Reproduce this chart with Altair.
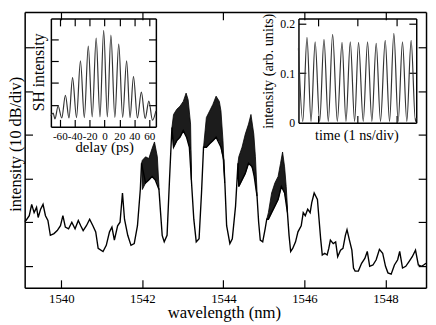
import altair as alt
import pandas as pd

FONT = "Liberation Serif"

# ---------------- main spectrum: wavelength (nm) vs level (dB) ----------------
wl = [1539.00, 1539.05, 1539.13, 1539.21, 1539.27, 1539.33, 1539.39, 1539.43, 1539.49, 1539.55,
      1539.61, 1539.67, 1539.73, 1539.82, 1539.90, 1539.98, 1540.04, 1540.10, 1540.18, 1540.26,
      1540.34, 1540.42, 1540.48, 1540.54, 1540.62, 1540.70, 1540.78, 1540.85, 1540.91, 1541.03,
      1541.11, 1541.19, 1541.25, 1541.31, 1541.39, 1541.45, 1541.51, 1541.56, 1541.64, 1541.72,
      1541.80, 1541.88, 1541.95, 1541.98, 1542.08, 1542.16, 1542.24, 1542.32, 1542.41, 1542.45,
      1542.49, 1542.54, 1542.61, 1542.67, 1542.73, 1542.77, 1542.85, 1542.93, 1543.01, 1543.09,
      1543.16, 1543.21, 1543.27, 1543.33, 1543.40, 1543.46, 1543.51, 1543.58, 1543.66, 1543.74,
      1543.82, 1543.94, 1544.01, 1544.04, 1544.08, 1544.16, 1544.22, 1544.30, 1544.36, 1544.38,
      1544.46, 1544.54, 1544.62, 1544.71, 1544.76, 1544.83, 1544.87, 1544.91, 1544.97, 1545.03,
      1545.07, 1545.11, 1545.19, 1545.27, 1545.35, 1545.43, 1545.51, 1545.58, 1545.62, 1545.66,
      1545.71, 1545.78, 1545.84, 1545.92, 1545.97, 1546.02, 1546.08, 1546.14, 1546.18, 1546.24,
      1546.32, 1546.36, 1546.40, 1546.44, 1546.50, 1546.56, 1546.60, 1546.64, 1546.71, 1546.77,
      1546.82, 1546.89, 1546.95, 1547.01, 1547.05, 1547.11, 1547.17, 1547.21, 1547.25, 1547.33,
      1547.41, 1547.49, 1547.55, 1547.61, 1547.69, 1547.77, 1547.85, 1547.93, 1548.00, 1548.06,
      1548.14, 1548.22, 1548.30, 1548.35, 1548.42, 1548.50, 1548.58, 1548.66, 1548.74, 1548.81,
      1548.89, 1548.94, 1549.00]
db = [-50.8, -50.0, -49.6, -48.5, -45.9, -47.8, -46.6, -48.9, -47.0, -45.9,
      -48.5, -49.6, -53.0, -52.6, -51.9, -50.8, -48.5, -51.1, -51.5, -50.0,
      -51.5, -49.6, -50.8, -51.9, -50.8, -49.3, -50.8, -52.2, -56.0, -56.7,
      -55.3, -52.2, -51.1, -54.1, -50.8, -50.0, -43.3, -49.3, -53.0, -55.3,
      -54.9, -50.8, -42.5, -36.5, -41.0, -40.3, -39.5, -40.3, -42.5, -47.8,
      -53.0, -54.5, -53.0, -40.3, -28.3, -32.8, -31.3, -30.5, -29.0, -30.5,
      -32.8, -40.3, -49.3, -54.5, -53.8, -43.3, -32.8, -32.8, -32.0, -31.3,
      -30.5, -32.8, -35.8, -41.8, -50.8, -54.9, -53.8, -46.3, -36.5, -41.8,
      -40.3, -38.8, -36.5, -37.3, -39.5, -44.0, -50.0, -54.1, -54.5, -51.5,
      -49.3, -49.3, -47.8, -46.3, -44.8, -41.8, -43.3, -47.8, -53.0, -56.7,
      -56.0, -54.5, -52.2, -50.8, -47.8, -48.5, -47.0, -47.8, -45.5, -43.3,
      -44.8, -49.3, -53.8, -57.5, -57.1, -57.5, -56.0, -54.1, -54.9, -54.5,
      -57.9, -56.4, -56.0, -53.0, -51.7, -54.1, -56.4, -60.5, -61.2, -61.2,
      -59.4, -58.3, -56.7, -60.1, -59.8, -58.6, -56.2, -57.1, -60.1, -61.6,
      -61.9, -59.8, -58.6, -56.7, -60.5, -60.1, -59.0, -57.9, -56.4, -59.8,
      -60.1, -59.8, -59.4]

# dense mode-comb lobes: wavelength, upper envelope, lower envelope (dB)
lobe_id = [1] * 8 + [2] * 9 + [3] * 9 + [4] * 9 + [5] * 10
lobe_wl = [1541.98, 1542.00, 1542.08, 1542.16, 1542.24, 1542.30, 1542.37, 1542.41,
           1542.73, 1542.77, 1542.85, 1542.93, 1543.01, 1543.08, 1543.13, 1543.19, 1543.21,
           1543.51, 1543.58, 1543.66, 1543.74, 1543.82, 1543.90, 1543.94, 1543.99, 1544.03,
           1544.36, 1544.38, 1544.46, 1544.54, 1544.62, 1544.68, 1544.75, 1544.79, 1544.83,
           1545.07, 1545.11, 1545.19, 1545.27, 1545.35, 1545.41, 1545.46, 1545.51, 1545.55, 1545.58]
lobe_hi = [-36.5, -35.8, -35.0, -35.4, -33.1, -31.6, -35.0, -41.8,
           -28.3, -25.3, -24.1, -23.4, -22.3, -20.4, -21.9, -27.5, -38.0,
           -32.8, -26.0, -24.5, -23.0, -21.1, -22.3, -24.5, -31.3, -40.0,
           -36.5, -35.0, -32.8, -29.8, -27.5, -25.3, -29.8, -35.0, -43.0,
           -49.3, -47.8, -43.3, -41.0, -39.5, -36.5, -33.9, -37.3, -41.8, -46.5]
lobe_lo = [-36.5, -42.5, -41.0, -40.3, -39.5, -40.0, -40.8, -42.5,
           -28.3, -32.8, -31.3, -30.5, -29.0, -30.0, -31.5, -33.5, -40.3,
           -32.8, -32.8, -32.0, -31.3, -30.5, -31.5, -32.8, -35.0, -41.0,
           -36.5, -41.8, -40.3, -38.8, -36.5, -36.8, -38.5, -40.5, -44.0,
           -49.3, -49.3, -47.8, -46.3, -44.8, -42.5, -42.0, -43.3, -45.0, -47.8]

# ---------------- inset 1: SH autocorrelation ----------------
sh_delay = [-72, -69, -66.5, -62.3, -57.4, -52.5, -47.7, -42.9, -37.6, -32.3, -27.1, -21.8,
            -16.5, -11.2, -6.1, -1.1, 3.8, 8.6, 13.9, 19.1, 24.4, 29.7, 34.3, 38.9, 44.2,
            49.5, 54.6, 59.6, 64.4, 69]
sh_int = [0.50, 0.62, 0.36, 0.95, 0.40, 1.44, 0.40, 2.25, 0.42, 3.02, 0.42, 3.69,
          0.45, 4.05, 0.45, 4.41, 0.45, 4.19, 0.43, 3.78, 0.43, 3.02, 0.42, 2.30, 0.40,
          1.58, 0.38, 1.17, 0.30, 0.72]

# ---------------- inset 2: pulse train ----------------
tr_time = [0.50, 0.61, 0.717, 0.82, 0.925, 1.04, 1.15, 1.26, 1.37, 1.49, 1.61, 1.71, 1.82,
           1.93, 2.03, 2.15, 2.26, 2.37, 2.48, 2.59, 2.71, 2.82, 2.93, 3.04, 3.15, 3.26,
           3.37, 3.48, 3.50]
tr_int = [0.150, 0.003, 0.172, 0.003, 0.163, 0.003, 0.168, 0.003, 0.178, 0.003, 0.162, 0.003,
          0.163, 0.003, 0.162, 0.003, 0.163, 0.003, 0.160, 0.003, 0.166, 0.003, 0.180, 0.003,
          0.163, 0.003, 0.166, 0.003, 0.010]

x_ticks = [1540, 1542, 1544, 1546, 1548]
y_ticks = [-60, -50, -40, -30, -20, -10]
sh_x_ticks = [-60, -40, -20, 0, 20, 40, 60]
sh_y_ticks = [1, 2, 3, 4]
tr_x_ticks = [1, 2, 3]
tr_y_ticks = [0.1, 0.2]
tr_y_labels = [0, 0.1, 0.2]

# ---------------- layout ----------------
W, H = 409, 281
MX, MY = [1539.097, 1549.0], [-65.0, -1.8]
S_XD, S_YD = [-72, 69], [0, 4.95]
S_XR, S_YR = [26.7, 133.7], [117.0, 6.7]
T_XD, T_YD = [0.5, 3.5], [0, 0.21]
T_XR, T_YR = [279.0, 399.0], [113.0, 6.7]


def sc(dom, rng=None):
    kw = dict(domain=dom, nice=False, zero=False)
    if rng is not None:
        kw["range"] = rng
    return alt.Scale(**kw)


def axis(orient, offset, **kw):
    base = dict(orient=orient, offset=offset, grid=False, labels=False, ticks=False,
                tickSize=0, domain=False, title=None, labelFont=FONT, titleFont=FONT,
                titleFontWeight="normal", labelColor="black", titleColor="black",
                domainColor="black", tickColor="black", domainWidth=1.5, tickWidth=1.2,
                labelFlush=False, labelOverlap=False)
    base.update(kw)
    return alt.Axis(**base)


main_df = pd.DataFrame({"wl": wl, "db": db})
lobe_df = pd.DataFrame({"lobe": lobe_id, "wl": lobe_wl, "hi": lobe_hi, "lo": lobe_lo})
sh_df = pd.DataFrame({"t": sh_delay, "v": sh_int})
tr_df = pd.DataFrame({"t": tr_time, "v": tr_int})

area = alt.Chart(lobe_df).mark_area(clip=True, color="#1c1c1c", stroke="black", strokeWidth=0.8).encode(
    x=alt.X("wl:Q", scale=sc(MX), axis=axis(
        "bottom", 0, labels=True, values=x_ticks, format="d", labelFontSize=13, labelPadding=5,
        domain=True, title="wavelength (nm)", titleFontSize=17, titleX=203, titleY=30,
        titleBaseline="alphabetic", titleAlign="center")),
    y=alt.Y("hi:Q", scale=sc(MY), axis=axis(
        "left", 0, domain=True, title="intensity (10 dB/div)", titleFontSize=16.5,
        titleX=-4, titleY=134.5, titleAngle=270, titleBaseline="alphabetic", titleAlign="center")),
    y2="lo:Q",
    detail="lobe:N",
)

line = alt.Chart(main_df).mark_line(clip=True, color="black", strokeWidth=1.4).encode(
    x=alt.X("wl:Q", scale=sc(MX), axis=axis("top", -H, ticks=True, tickSize=8, values=x_ticks)),
    y=alt.Y("db:Q", scale=sc(MY), axis=axis("right", -W, ticks=True, tickSize=8, values=y_ticks)),
)

frame = alt.Chart(main_df).mark_line(opacity=0).encode(
    x=alt.X("wl:Q", scale=sc(MX), axis=axis("bottom", -H, ticks=True, tickSize=8, values=x_ticks, domain=True)),
    y=alt.Y("db:Q", scale=sc(MY), axis=axis("left", -W, ticks=True, tickSize=8, values=y_ticks, domain=True)),
)

# inset 1
s1 = alt.Chart(sh_df).mark_line(color="#333333", strokeWidth=1.2, interpolate="monotone").encode(
    x=alt.X("t:Q", scale=sc(S_XD, S_XR), axis=axis(
        "bottom", S_YR[0] - H, labels=True, values=sh_x_ticks, labelExpr="'' + datum.value",
        labelFontSize=11.3, labelPadding=3.5, domain=True, title="delay (ps)", titleFontSize=15,
        titleX=81, titleY=25, titleBaseline="alphabetic", titleAlign="center")),
    y=alt.Y("v:Q", scale=sc(S_YD, S_YR), axis=axis(
        "left", -S_XR[0], domain=True, title="SH intensity", titleFontSize=16, titleX=-8,
        titleY=61, titleAngle=270, titleBaseline="alphabetic", titleAlign="center")),
)
s2 = alt.Chart(sh_df).mark_line(opacity=0).encode(
    x=alt.X("t:Q", scale=sc(S_XD, S_XR), axis=axis("top", -S_YR[0], ticks=True, tickSize=7.5, values=sh_x_ticks)),
    y=alt.Y("v:Q", scale=sc(S_YD, S_YR), axis=axis("right", S_XR[0] - W, ticks=True, tickSize=7.5, values=sh_y_ticks)),
)
s3 = alt.Chart(sh_df).mark_line(opacity=0).encode(
    x=alt.X("t:Q", scale=sc(S_XD, S_XR), axis=axis("bottom", S_YR[1] - H, ticks=True, tickSize=7.5, values=sh_x_ticks, domain=True)),
    y=alt.Y("v:Q", scale=sc(S_YD, S_YR), axis=axis("left", -S_XR[1], ticks=True, tickSize=7.5, values=sh_y_ticks, domain=True)),
)

# inset 2
t1 = alt.Chart(tr_df).mark_line(color="#333333", strokeWidth=1.2, interpolate="monotone").encode(
    x=alt.X("t:Q", scale=sc(T_XD, T_XR), axis=axis(
        "bottom", T_YR[0] - H, domain=True, title="time (1 ns/div)", titleFontSize=14.5,
        titleX=338, titleY=16.5, titleBaseline="alphabetic", titleAlign="center")),
    y=alt.Y("v:Q", scale=sc(T_YD, T_YR), axis=axis(
        "left", -T_XR[0], labels=True, values=tr_y_labels, format="~g", labelFontSize=12,
        labelPadding=4, domain=True, title="intensity (arb. units)", titleFontSize=14.5,
        titleX=-26.5, titleY=60, titleAngle=270, titleBaseline="alphabetic", titleAlign="center")),
)
t2 = alt.Chart(tr_df).mark_line(opacity=0).encode(
    x=alt.X("t:Q", scale=sc(T_XD, T_XR), axis=axis("top", -T_YR[0], ticks=True, tickSize=7.5, values=tr_x_ticks)),
    y=alt.Y("v:Q", scale=sc(T_YD, T_YR), axis=axis("right", T_XR[0] - W, ticks=True, tickSize=7.5, values=tr_y_ticks)),
)
t3 = alt.Chart(tr_df).mark_line(opacity=0).encode(
    x=alt.X("t:Q", scale=sc(T_XD, T_XR), axis=axis("bottom", T_YR[1] - H, ticks=True, tickSize=7.5, values=tr_x_ticks, domain=True)),
    y=alt.Y("v:Q", scale=sc(T_YD, T_YR), axis=axis("left", -T_XR[1], ticks=True, tickSize=7.5, values=tr_y_ticks, domain=True)),
)

chart = (
    alt.layer(area, line, frame, s1, s2, s3, t1, t2, t3)
    .resolve_scale(x="independent", y="independent")
    .resolve_axis(x="independent", y="independent")
    .properties(width=W, height=H, autosize=alt.AutoSizeParams(type="none"),
                padding={"left": 17, "top": 1, "right": 2, "bottom": 35}, background="white")
    .configure_view(stroke=None)
    .configure_axis(grid=False, labelFont=FONT, titleFont=FONT)
    .configure(font=FONT)
)

chart.save("out.html", embed_options={"renderer": "svg", "actions": False})
